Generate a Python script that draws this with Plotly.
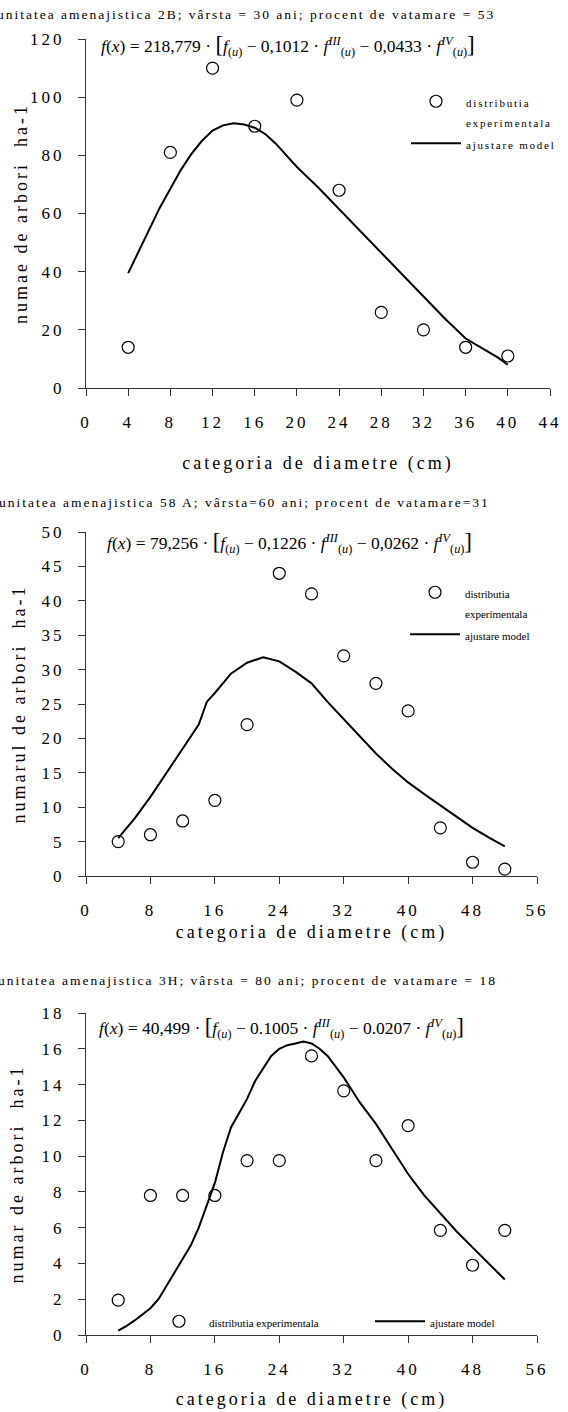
import plotly.graph_objects as go

W, H = 568, 1412
SERIF = "Liberation Serif, Times New Roman, serif"

# ---------------- data ----------------
panel_titles = [
    "unitatea amenajistica 2B; vârsta = 30 ani; procent de vatamare = 53",
    "unitatea amenajistica 58 A; vârsta=60 ani; procent de vatamare=31",
    "unitatea amenajistica 3H; vârsta = 80 ani; procent de vatamare = 18",
]
y_titles = ["numae de arbori  ha-1", "numarul de arbori  ha-1", "numar de arbori  ha-1"]
x_title = "categoria de diametre (cm)"

coef_a = ["218,779", "79,256", "40,499"]
coef_b = ["0,1012", "0,1226", "0.1005"]
coef_c = ["0,0433", "0,0262", "0.0207"]

diam1 = [4, 8, 12, 16, 20, 24, 28, 32, 36, 40]
obs1 = [14, 81, 110, 90, 99, 68, 26, 20, 14, 11]
fit1_x = [4, 5, 6, 7, 8, 9, 10, 11, 12, 13, 14, 15, 16, 17, 18, 19, 20, 22, 24, 26, 28, 30, 32, 34, 36, 37, 38, 39, 40]
fit1_y = [39.5, 47, 55, 62, 68.5, 75, 80.5, 85, 88.5, 90.3, 91, 90.6, 89.5, 87.3, 84, 80, 76, 69, 61.5, 54, 46.5, 39, 31.5, 24, 17, 14.8, 12.8, 10.6, 8]

diam2 = [4, 8, 12, 16, 20, 24, 28, 32, 36, 40, 44, 48, 52]
obs2 = [5, 6, 8, 11, 22, 44, 41, 32, 28, 24, 7, 2, 1]
fit2_x = [4, 6, 8, 10, 12, 14, 15, 16, 18, 20, 22, 24, 26, 28, 30, 32, 34, 36, 38, 40, 42, 44, 46, 48, 50, 52]
fit2_y = [5.5, 8.3, 11.5, 15, 18.5, 22, 25.3, 26.6, 29.4, 31, 31.8, 31.2, 29.7, 28, 25.3, 22.8, 20.2, 17.8, 15.6, 13.6, 11.9, 10.3, 8.6, 7, 5.6, 4.3]

diam3 = [4, 8, 12, 16, 20, 24, 28, 32, 36, 40, 44, 48, 52]
obs3 = [1.95, 7.8, 7.8, 7.8, 9.75, 9.75, 15.6, 13.65, 9.75, 11.7, 5.85, 3.9, 5.85]
fit3_x = [4, 5, 6, 7, 8, 9, 10, 11, 12, 13, 14, 15, 16, 17, 18, 19, 20, 21, 22, 23, 24, 25, 26, 27, 28, 29, 30, 31, 32, 34, 36, 38, 40, 42, 44, 46, 48, 50, 52]
fit3_y = [0.25, 0.5, 0.8, 1.15, 1.5, 2.0, 2.75, 3.5, 4.2, 5.0, 6.0, 7.3, 8.5, 10.2, 11.6, 12.4, 13.2, 14.2, 14.9, 15.6, 16.0, 16.2, 16.3, 16.4, 16.3, 16.0, 15.6, 15.0, 14.4, 13.0, 11.8, 10.4, 9.0, 7.8, 6.8, 5.8, 4.9, 4.0, 3.1]

x_ranges = [[0, 44], [0, 56], [0, 56]]
x_dticks = [4, 8, 8]
y_ranges = [[0, 120], [0, 50], [0, 18]]
y_dticks = [20, 5, 2]

obs_names = ["distributia<br>experimentala", "distributia<br>experimentala", "distributia experimentala"]
fit_name = "ajustare model"

# ---------------- layout geometry (pixels) ----------------
x_px = [(86, 550), (86, 537), (86, 537)]
y_px = [(39, 388), (532, 876), (1013, 1335)]
title_pos = [(246, 14), (244.5, 502), (247.5, 980)]
formula_px = [(99, 45), (105, 542), (97, 1027)]
xt_standoff = [24, 5, 13]
yt_standoff = [6, 17, 19]
# legend used by (observed, fitted) trace of each panel
legend_ids = [("legend", "legend"), ("legend2", "legend2"), ("legend3", "legend4")]

def px_x(v):
    return v / W

def px_y(v):
    return 1 - v / H

def leg_text(s, size):
    return "<span style='font-size:%dpx'>%s</span>" % (size, s)

fig = go.Figure()
series = [(diam1, obs1, fit1_x, fit1_y), (diam2, obs2, fit2_x, fit2_y), (diam3, obs3, fit3_x, fit3_y)]
for i, (d, o, fx, fy) in enumerate(series):
    sfx = "" if i == 0 else str(i + 1)
    fig.add_trace(go.Scatter(
        x=d, y=o, mode="markers", name=leg_text(obs_names[i], 11),
        marker=dict(symbol="circle-open", size=12, color="black", line=dict(width=1.2, color="black")),
        xaxis="x" + sfx, yaxis="y" + sfx, legend=legend_ids[i][0], showlegend=True))
    fig.add_trace(go.Scatter(
        x=fx, y=fy, mode="lines", name=leg_text(fit_name, 11),
        line=dict(color="black", width=2),
        xaxis="x" + sfx, yaxis="y" + sfx, legend=legend_ids[i][1], showlegend=True))

axis_common = dict(showline=True, linecolor="#333", linewidth=1, ticks="outside", ticklen=7,
                   tickcolor="#333", showgrid=False, zeroline=False,
                   tickfont=dict(family=SERIF, size=17, color="black"))

layout = dict(width=W, height=H, margin=dict(l=0, r=0, t=0, b=0, autoexpand=False),
              paper_bgcolor="white", plot_bgcolor="white",
              font=dict(family=SERIF, color="black"))

annotations = []
for i in range(3):
    sfx = "" if i == 0 else str(i + 1)
    layout["xaxis" + sfx] = dict(axis_common, domain=[px_x(x_px[i][0]), px_x(x_px[i][1])],
                                anchor="y" + sfx, range=x_ranges[i], tick0=0, dtick=x_dticks[i],
                                ticklabelstandoff=12,
                                title=dict(text=x_title, standoff=xt_standoff[i],
                                           font=dict(family=SERIF, size=18, color="black")))
    layout["yaxis" + sfx] = dict(axis_common, domain=[px_y(y_px[i][1]), px_y(y_px[i][0])],
                                anchor="x" + sfx, range=y_ranges[i], tick0=0, dtick=y_dticks[i],
                                ticklabelstandoff=10,
                                title=dict(text=y_titles[i], standoff=yt_standoff[i],
                                           font=dict(family=SERIF, size=18, color="black")))
    tx, ty = title_pos[i]
    annotations.append(dict(text=panel_titles[i], xref="paper", yref="paper",
                            x=px_x(tx), y=px_y(ty), xanchor="center", yanchor="middle",
                            showarrow=False, font=dict(family=SERIF, size=13.5, color="black")))

for i in range(3):
    big = "<span style='font-size:23px'>%s</span>"
    txt = ("<i>f</i>(<i>x</i>) = " + coef_a[i] + " · " + big % "[" +
           "<i>f</i><sub>(<i>u</i>)</sub> − " + coef_b[i] + " · <i>f</i><sup><i>III</i></sup><sub>(<i>u</i>)</sub>"
           " − " + coef_c[i] + " · <i>f</i><sup><i>IV</i></sup><sub>(<i>u</i>)</sub>" + big % "]")
    fx, fy = formula_px[i]
    annotations.append(dict(text=txt, xref="paper", yref="paper", x=px_x(fx), y=px_y(fy),
                            xanchor="left", yanchor="middle", showarrow=False,
                            font=dict(family=SERIF, size=17.5, color="black")))

layout["annotations"] = annotations

leg_common = dict(bgcolor="rgba(0,0,0,0)", borderwidth=0, xref="paper", yref="paper",
                  xanchor="left", yanchor="top", valign="top", itemwidth=50, orientation="v",
                  font=dict(family=SERIF, size=15, color="black"))
layout["legend"] = dict(leg_common, x=px_x(406), y=px_y(85))
layout["legend2"] = dict(leg_common, x=px_x(405), y=px_y(576))
layout["legend3"] = dict(leg_common, x=px_x(149), y=px_y(1305))
layout["legend4"] = dict(leg_common, x=px_x(370), y=px_y(1305))

fig.update_layout(**layout)

post = """
document.body.style.margin = '0';
var css = [
  '.xtick text, .x2tick text, .x3tick text, .ytick text, .y2tick text, .y3tick text { letter-spacing: 3px; }',
  '.xtitle, .x2title, .x3title, .ytitle, .y2title, .y3title { letter-spacing: 3px; }',
  'text.legendtext, text.legendtext tspan { letter-spacing: 1.8px !important; }',
  '.scrollbox { clip-path: none !important; }',
  '.annotation[data-index="0"] text, .annotation[data-index="1"] text, .annotation[data-index="2"] text { letter-spacing: 2px; }'
].join('\\n');
var st = document.createElement('style');
st.textContent = css;
document.head.appendChild(st);
"""

fig.write_html("out.html", post_script=post, config={"displayModeBar": False})
